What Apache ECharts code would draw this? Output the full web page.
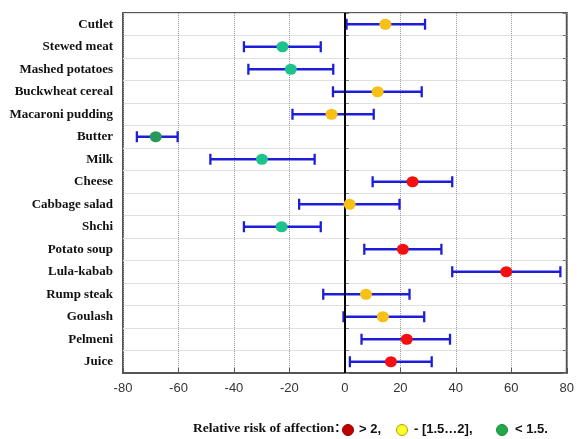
<!DOCTYPE html>
<html>
<head>
<meta charset="utf-8">
<script src="https://cdn.jsdelivr.net/npm/echarts@6/dist/echarts.min.js"></script>
<style>html,body{margin:0;padding:0;background:#fff}#c{width:577px;height:439px}</style>
</head>
<body>
<div id="c"></div>
<script>
var categories = ['Cutlet','Stewed meat','Mashed potatoes','Buckwheat cereal','Macaroni pudding','Butter','Milk','Cheese','Cabbage salad','Shchi','Potato soup','Lula-kabab','Rump steak','Goulash','Pelmeni','Juice'];
var lowValues  = [0.6, -36.4, -34.8, -4.3, -18.9, -75.0, -48.5, 10.0, -16.5, -36.4, 7.0, 38.7, -7.8, -0.5, 6.0, 1.8];
var meanValues = [14.6, -22.5, -19.5, 11.8, -4.8, -68.2, -29.9, 24.4, 1.7, -22.8, 20.9, 58.2, 7.6, 13.7, 22.3, 16.6];
var highValues = [28.9, -8.7, -4.2, 27.7, 10.4, -60.3, -10.9, 38.7, 19.7, -8.7, 34.8, 77.7, 23.3, 28.6, 37.9, 31.3];
var riskGroups = ['mid','low','low','mid','mid','lowdark','low','high','mid','low','high','high','mid','mid','high','high'];
var xTicks = [-80, -60, -40, -20, 0, 20, 40, 60, 80];

var groupColors = {high:'#f21010', mid:'#f6c015', low:'#1dc28c', lowdark:'#289858'};

var chart = echarts.init(document.getElementById('c'), null, {renderer:'canvas'});

var errData = categories.map(function(c, i){ return [lowValues[i], highValues[i], i]; });
var dotData = categories.map(function(c, i){
  return {value:[meanValues[i], i], itemStyle:{color:groupColors[riskGroups[i]], opacity:1}};
});

var option = {
  animation:false,
  backgroundColor:'#fff',
  grid:{left:123, right:8, top:13, bottom:66, show:true, borderColor:'#555', borderWidth:2, backgroundColor:'transparent'},
  xAxis:{
    type:'value', min:xTicks[0], max:xTicks[xTicks.length-1], interval:20,
    axisLine:{show:true, onZero:false, lineStyle:{color:'#555', width:2}},
    axisTick:{show:true, inside:true, length:5, lineStyle:{color:'#555'}},
    axisLabel:{color:'#333', fontFamily:'Liberation Sans, Arial', fontSize:13, margin:9},
    splitLine:{show:true, lineStyle:{color:'#999', type:[1,1], width:1}}
  },
  yAxis:[{
    type:'category', data:categories, inverse:true, boundaryGap:true,
    axisLine:{show:false},
    axisTick:{show:true, inside:true, length:4, lineStyle:{color:'#777'}},
    axisLabel:{color:'#111', fontFamily:'Liberation Serif, Times New Roman', fontWeight:'bold', fontSize:13, margin:10},
    splitLine:{show:true, lineStyle:{color:'#e0e0e0', width:1}}
  },{
    type:'category', data:categories, inverse:true, boundaryGap:true, position:'right',
    axisLine:{show:false},
    axisTick:{show:true, inside:true, length:4, lineStyle:{color:'#777'}},
    axisLabel:{show:false},
    splitLine:{show:false}
  }],
  series:[{
    type:'custom',
    data:errData,
    z:3,
    renderItem:function(params, api){
      var y = api.value(2);
      var p1 = api.coord([api.value(0), y]);
      var p2 = api.coord([api.value(1), y]);
      var h = 5.5;
      var st = {stroke:'#1e1ed8', lineWidth:2.3};
      return {type:'group', children:[
        {type:'line', shape:{x1:p1[0], y1:p1[1], x2:p2[0], y2:p2[1]}, style:st},
        {type:'line', shape:{x1:p1[0], y1:p1[1]-h, x2:p1[0], y2:p1[1]+h}, style:st},
        {type:'line', shape:{x1:p2[0], y1:p2[1]-h, x2:p2[0], y2:p2[1]+h}, style:st}
      ]};
    },
    encode:{x:[0,1], y:2}
  },{
    type:'scatter',
    data:dotData,
    symbolSize:[12,11],
    z:5,
    markLine:{
      silent:true, symbol:'none', label:{show:false},
      lineStyle:{color:'#000', width:2, type:'solid'},
      data:[{xAxis:0}]
    }
  }],
  graphic:[
    {type:'text', left:193, top:422, style:{text:'Relative risk of affection', font:'bold 13.5px "Liberation Serif", serif', fill:'#111'}},
    {type:'text', left:335, top:421, style:{text:':', font:'bold 14px "Liberation Sans", sans-serif', fill:'#111'}},
    {type:'circle', shape:{cx:348, cy:430, r:5.5}, style:{fill:'#c00000', stroke:'#900000', lineWidth:1}},
    {type:'text', left:359, top:423, style:{text:'> 2,', font:'bold 13px "Liberation Sans", sans-serif', fill:'#111'}},
    {type:'circle', shape:{cx:402, cy:430, r:5.5}, style:{fill:'#ffff30', stroke:'#b0a000', lineWidth:1}},
    {type:'text', left:414, top:423, style:{text:'- [1.5\u20262],', font:'bold 13px "Liberation Sans", sans-serif', fill:'#111'}},
    {type:'circle', shape:{cx:502, cy:430, r:5.5}, style:{fill:'#22a84a', stroke:'#1a8a3a', lineWidth:1}},
    {type:'text', left:515, top:423, style:{text:'< 1.5.', font:'bold 13px "Liberation Sans", sans-serif', fill:'#111'}}
  ]
};
chart.setOption(option);
</script>
</body>
</html>
